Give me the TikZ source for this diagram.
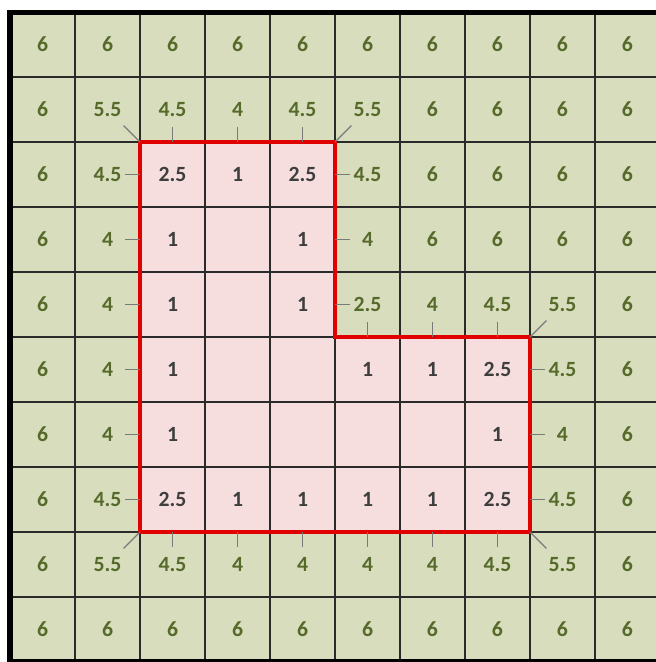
\documentclass[tikz,border=0pt]{standalone}
\usepackage{fontspec}
\setmainfont{Carlito}

\definecolor{cellgreen}{HTML}{D8DDBE}
\definecolor{valgreen}{HTML}{566A2A}
\definecolor{valgray}{HTML}{3E3E3E}
\definecolor{regionpink}{HTML}{F6DEDE}
\definecolor{regionred}{HTML}{E00000}
\definecolor{gridgray}{HTML}{2A2A2A}
\definecolor{tickgray}{HTML}{7A7A7A}

\begin{document}
\begin{tikzpicture}[x=1cm, y=-1cm,
  every node/.style={font=\fontsize{9.5}{11}\selectfont\bfseries},
  gridline/.style={draw=gridgray, line width=0.9pt},
  region/.style={draw=regionred, line width=1.9pt, line join=miter},
  tick/.style={draw=tickgray, line width=0.6pt},
  straight/.style={tick, shorten <=0.27cm},
  slant/.style={tick, shorten <=0.35cm}]
\useasboundingbox (-0.154,-0.185) rectangle (9.938,10);
\fill[cellgreen] (0,0) rectangle (10,10);
% corners of the L-shaped region
\coordinate (tl) at (2,2);
\coordinate (tm) at (5,2);
\coordinate (mm) at (5,5);
\coordinate (mr) at (8,5);
\coordinate (br) at (8,8);
\coordinate (bl) at (2,8);
\fill[regionpink] (tl) -- (tm) -- (mm) -- (mr) -- (br) -- (bl) -- cycle;
\draw[gridline] (0,0) grid (10,10);
\draw[region] (tl) -- (tm) -- (mm) -- (mr) -- (br) -- (bl) -- cycle;
\draw[line width=2.2pt] (0,0) rectangle (10,10);
% cell values
\foreach \row [count=\r from 0] in {
  {6,6,6,6,6,6,6,6,6,6},
  {6,5.5,4.5,4,4.5,5.5,6,6,6,6},
  {6,4.5,2.5,1,2.5,4.5,6,6,6,6},
  {6,4,1,,1,4,6,6,6,6},
  {6,4,1,,1,2.5,4,4.5,5.5,6},
  {6,4,1,,,1,1,2.5,4.5,6},
  {6,4,1,,,,,1,4,6},
  {6,4.5,2.5,1,1,1,1,2.5,4.5,6},
  {6,5.5,4.5,4,4,4,4,4.5,5.5,6},
  {6,6,6,6,6,6,6,6,6,6}} {
  \foreach \v [count=\c from 0] in \row {
    \pgfmathtruncatemacro\ins{(\r>1)*(\r<8)*((\c>1)*(\c<5)+(\r>4)*(\c>4)*(\c<8))}
    \ifnum\ins>0 \colorlet{valcol}{valgray}\else\colorlet{valcol}{valgreen}\fi
    \node[text=valcol] (c-\r-\c) at (\c+0.5,\r+0.5) {\v};
  }
}
% ticks to the region border
\foreach \r in {2,...,7} \draw[straight] (c-\r-1.center) -- (c-\r-1.center -| tl);
\foreach \r in {2,3,4} \draw[straight] (c-\r-5.center) -- (c-\r-5.center -| tm);
\foreach \r in {5,6,7} \draw[straight] (c-\r-8.center) -- (c-\r-8.center -| mr);
\foreach \c in {2,3,4} \draw[straight] (c-1-\c.center) -- (c-1-\c.center |- tl);
\foreach \c in {5,6,7} \draw[straight] (c-4-\c.center) -- (c-4-\c.center |- mm);
\foreach \c in {2,...,7} \draw[straight] (c-8-\c.center) -- (c-8-\c.center |- bl);
\draw[slant] (c-1-1.center) -- (tl);
\draw[slant] (c-1-5.center) -- (tm);
\draw[slant] (c-4-8.center) -- (mr);
\draw[slant] (c-8-1.center) -- (bl);
\draw[slant] (c-8-8.center) -- (br);
\end{tikzpicture}
\end{document}
